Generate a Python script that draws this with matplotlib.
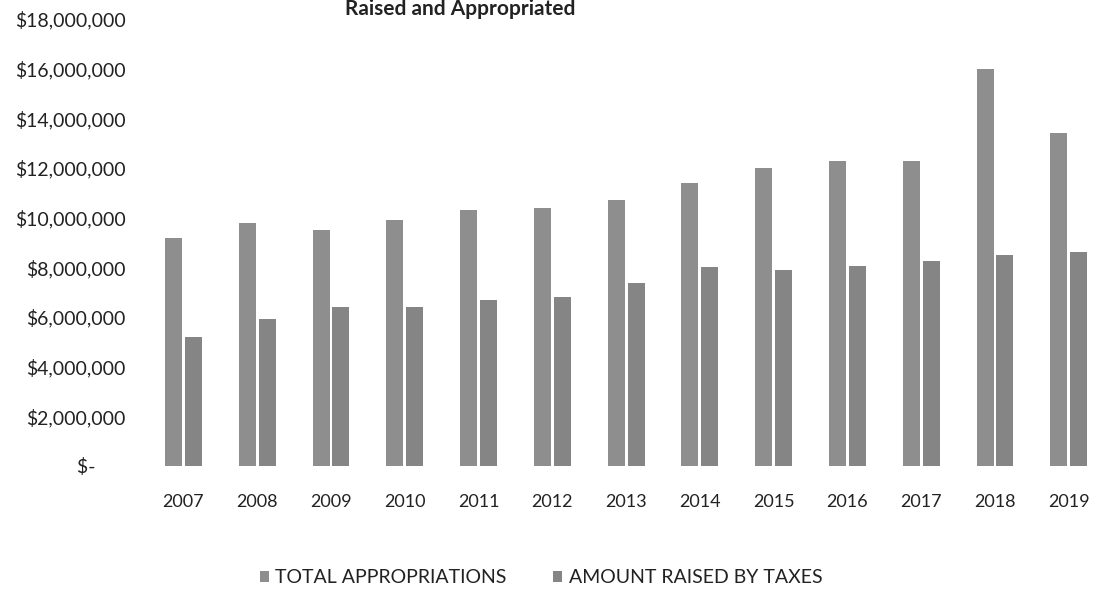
import matplotlib
matplotlib.use("Agg")
import matplotlib.pyplot as plt
import numpy as np
from matplotlib.ticker import FuncFormatter

years = ["2007", "2008", "2009", "2010", "2011", "2012", "2013",
         "2014", "2015", "2016", "2017", "2018", "2019"]
total_appropriations = [9.2e6, 9.8e6, 9.5e6, 9.9e6, 10.3e6, 10.4e6, 10.7e6,
                        11.4e6, 12.0e6, 12.3e6, 12.3e6, 16.0e6, 13.4e6]
amount_raised_by_taxes = [5.2e6, 5.9e6, 6.4e6, 6.4e6, 6.7e6, 6.8e6, 7.35e6,
                          8.0e6, 7.9e6, 8.05e6, 8.25e6, 8.5e6, 8.6e6]

plt.rcParams['font.family'] = ['Lato', 'DejaVu Sans']

fig = plt.figure(figsize=(11.02, 5.94), dpi=100)
ax = fig.add_axes([0.133, 0.2155, 0.867, 0.7525])

x = np.arange(len(years))
w = 0.23
ax.bar(x - 0.135, total_appropriations, width=w, color='#8e8e8e',
       label='TOTAL APPROPRIATIONS')
ax.bar(x + 0.135, amount_raised_by_taxes, width=w, color='#858585',
       label='AMOUNT RAISED BY TAXES')

ax.set_ylim(0, 18e6)
ax.set_xlim(-0.5, 12.45)
ax.set_yticks(np.arange(0, 18e6 + 1, 2e6))

def fmt(v, pos):
    if v == 0:
        return '$-      '
    return '${:,.0f}'.format(v)

ax.yaxis.set_major_formatter(FuncFormatter(fmt))
ax.set_xticks(x)
ax.set_xticklabels(years)
ax.tick_params(axis='both', length=0, colors='#222222')
ax.tick_params(axis='y', pad=15, labelsize=14)
ax.tick_params(axis='x', pad=20, labelsize=13)
for s in ax.spines.values():
    s.set_visible(False)

fig.text(345 / 1102, 1 - 15 / 594, 'Raised and Appropriated', fontsize=15,
         fontweight='bold', ha='left', va='baseline', color='#222222')

ax.legend(loc='center', bbox_to_anchor=(0.413, -0.25), ncol=2,
          frameon=False, fontsize=14, handlelength=0.45, handleheight=0.45,
          columnspacing=2.4, handletextpad=0.35, labelcolor='#222222')

fig.savefig('out.png', dpi=100, facecolor='white')
